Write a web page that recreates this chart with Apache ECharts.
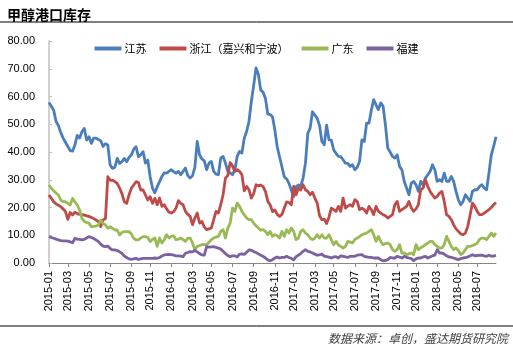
<!DOCTYPE html>
<html>
<head>
<meta charset="utf-8">
<script src="https://cdn.jsdelivr.net/npm/echarts@6/dist/echarts.min.js"></script>
<style>
  html, body { margin: 0; padding: 0; background: #fff; }
  #chart { width: 513px; height: 353px; }
</style>
</head>
<body>
<div id="chart"></div>
<script>
// weekly readings, 2015-01-02 .. 2018-08-24
const weeks = [];
for (let t = Date.UTC(2015, 0, 2); weeks.length < 191; t += 7 * 864e5) {
  weeks.push(new Date(t).toISOString().slice(0, 10));
}

const jiangsu = [
  57.8, 56.5, 55, 51, 49.5, 47, 45, 43.5, 42, 40.5, 40.3, 42.5, 46, 45, 47.3, 48.5, 44.3, 45.5, 43.1, 45,
  45, 44.5, 44, 42, 43, 42.5, 35.3, 34.1, 34.5, 37.7, 35.9, 36.5, 37.7, 36.5, 38, 38.9, 41, 41.9, 38.3, 39,
  40.1, 36, 37.1, 31, 27, 25.3, 27.5, 29.3, 31.2, 32.5, 32.4, 33, 33.6, 32.9, 32.4, 33, 31.8, 33, 34.2, 31.5,
  30.6, 31.5, 34.5, 43.8, 39, 37.5, 36.8, 33.6, 36, 36.6, 33, 32, 31.8, 37.8, 38.4, 36, 33, 32.5, 31.8, 33.6,
  38.5, 40.2, 39.6, 45, 47.4, 51, 58.2, 64, 70.3, 67.9, 62.3, 61.5, 59.3, 53.7, 53.5, 52.7, 47.9, 41.9, 38.3, 34.7,
  31.1, 30.3, 28.7, 26.3, 23.9, 27.5, 28.1, 27.6, 30.6, 35.9, 46.7, 48.6, 54.5, 53.3, 52.1, 49.5, 43.8, 42.6, 49.7, 44.4,
  44.3, 40.8, 39.5, 38.4, 38.3, 37.2, 36, 35.9, 34.8, 35.4, 33.6, 34.5, 36.6, 44.4, 43.8, 50.4, 50.4, 55, 58.9, 57,
  55.3, 57.7, 56.5, 49.8, 41.4, 40, 38.4, 37.8, 39, 34.8, 33.6, 29.4, 27, 24.6, 28.8, 29.4, 28.2, 25.8, 29.4, 28.2,
  30.6, 31.8, 33, 35.4, 33.6, 29.4, 30, 29.4, 32.4, 29.4, 29.4, 31.2, 29.4, 25.8, 22.8, 21, 22.2, 24.6, 23.4, 22.2,
  25.8, 26.4, 26.4, 27.6, 28.2, 27, 26.4, 32.4, 39, 42, 45.5
];

const zhejiang = [
  24.5, 23.3, 22, 21.3, 20.8, 20.3, 19.5, 18.5, 15.7, 18.2, 17.3, 18.3, 17.8, 17.5, 17.4, 17.3, 17, 16.8, 16.4, 16,
  15.5, 14.9, 13.1, 15.5, 16, 31.1, 29.8, 29.9, 29.3, 28.7, 27, 25, 22.1, 21.5, 24.5, 26.9, 28.1, 29.3, 29, 26.3,
  26.3, 24.5, 22.7, 23.9, 21.5, 23.3, 21, 23.4, 20.4, 21, 19.5, 18.3, 18, 18.5, 19.8, 22.5, 21.5, 21, 18.6, 17.5,
  16.8, 13.8, 16.2, 18, 14.4, 15, 13, 12, 12.3, 12.6, 15.6, 18.6, 18, 21, 24.6, 30.6, 31.5, 36.2, 35, 33,
  33.6, 33, 31.8, 26, 27.6, 26.4, 23.4, 25, 28.2, 27.8, 28.1, 27.5, 25.8, 22.2, 21, 18.5, 19.1, 17.5, 16.8, 17.5,
  19.8, 22, 21.8, 21, 27.6, 24.6, 27, 26.3, 28.2, 26.4, 25.8, 24.6, 25.5, 23.4, 21.6, 17, 15.6, 15.8, 14.2, 16.5,
  19.8, 19.2, 18.6, 20.4, 18.6, 23.4, 19.8, 20.5, 21, 20.4, 22.8, 22.2, 19.2, 19.8, 19.2, 18, 20.4, 19.2, 17.4, 20.4,
  18.6, 18, 17.4, 17, 16.2, 16.8, 17.4, 21, 22.2, 18.6, 19.2, 19.8, 20.4, 22.2, 19.8, 18.6, 19.5, 21, 26.4, 27,
  30, 27.6, 25.8, 24.5, 23.4, 24, 25.2, 25.8, 22.2, 17.4, 16.8, 15.6, 13.8, 12.3, 11.4, 10.5, 10.2, 10.8, 13.2, 17.4,
  21.6, 20.4, 18.6, 17.4, 17.4, 18, 18.6, 19.2, 20, 21, 21.8
];

const guangdong = [
  28.1, 26.9, 26, 25.2, 24.5, 22.7, 22.1, 22.1, 21.5, 20.9, 23.3, 22, 20.9, 19.1, 16.1, 15, 14.6, 14.3, 13.1, 13.2,
  13.3, 13.7, 15.5, 14.3, 13.7, 12.5, 13.1, 12.5, 11.9, 11.9, 10.1, 11, 11.3, 11.3, 11.3, 10.5, 8.9, 8.3, 8.3, 9,
  9.5, 9.5, 9.2, 7.7, 8.5, 9, 6, 9, 7.2, 8.4, 10.2, 9, 9.6, 9.8, 8.4, 8.6, 9, 8.4, 7.8, 9,
  9, 7.2, 4.8, 6, 6.3, 6.6, 6.6, 6.6, 7.5, 8.4, 9, 9.3, 9.6, 11.4, 12, 9, 12.6, 14.4, 19.8, 18.6,
  21.6, 20.4, 18.6, 17.4, 16.2, 15.6, 15.6, 14.4, 13.4, 12.6, 11.8, 12, 11.4, 10.2, 11.4, 9.6, 10.2, 9.8, 9, 11.4,
  9.6, 12, 10.8, 12.6, 11.4, 8.4, 9, 11.4, 12, 10.8, 10.2, 9, 8.4, 9, 10.2, 9, 10.2, 9, 9, 10.2,
  8.4, 6.6, 7.8, 6.5, 6, 5.4, 6, 7.8, 7.5, 7.2, 8.5, 9, 9.5, 10.2, 10.5, 10.8, 11.4, 12, 10.2, 7.8,
  9.6, 7.8, 6.6, 7, 7.2, 6.6, 4.8, 4.2, 4.8, 6.6, 3.6, 3.6, 3, 3.3, 3.6, 3, 6.6, 4.8, 5.5, 6,
  6.6, 7.2, 7.8, 7.8, 6.6, 6, 5.4, 5.4, 6.6, 9.6, 7.8, 6, 4.8, 5.4, 4.5, 3, 3.6, 4.8, 6, 6,
  6.3, 6.6, 7.2, 8.5, 9, 9, 8.4, 9.6, 10.8, 9.6, 10.8
];

const fujian = [
  9.5, 9.2, 8.9, 8.6, 8.3, 8.1, 8, 8, 7.9, 7.6, 7.3, 8.9, 8.6, 8.5, 8.3, 8.5, 9, 9.5, 9.2, 8.8,
  8.3, 7.7, 6.8, 6.1, 5.9, 6.1, 5.2, 4.7, 4.7, 4.5, 4, 3.5, 2.5, 2, 1.5, 1.3, 1.5, 1.7, 1.3, 1.5,
  1.7, 1.7, 1.7, 1.7, 1.7, 1.8, 1.7, 2, 2.5, 2.9, 3, 3.1, 3, 2.8, 2.6, 2.6, 2.5, 2.3, 3.5, 3.8,
  4.1, 4, 4.5, 4, 3.4, 2.9, 2.8, 5.9, 5.7, 5.8, 5.9, 5.6, 5.4, 5, 4.2, 3.4, 2.7, 2.3, 2.6, 2.6,
  2.2, 3.2, 3.3, 3.1, 3.9, 4.7, 4.6, 4.1, 3.8, 3.3, 2.8, 2.4, 1.8, 1.1, 0.8, 1.2, 1.8, 2.2, 1.8, 2,
  2, 2.4, 2, 1.7, 1.1, 2.3, 2.8, 3.4, 4.2, 4.8, 4.2, 4, 3.6, 3.2, 2.8, 2.9, 3.2, 2.5, 2.3, 2.1,
  1.8, 2.2, 2.3, 1.8, 2.6, 2.4, 2.2, 2, 2.4, 2.4, 2.4, 2.8, 2.9, 3, 2.4, 2.2, 2, 2, 1.8, 1.8,
  1.8, 1.2, 0.8, 0.9, 1.2, 2, 1.8, 1.8, 2.4, 2.1, 1.8, 2.4, 2, 1.8, 1.6, 0.8, 1.5, 1.8, 1.8, 2.2,
  2.4, 1.8, 2.2, 2.6, 2.8, 4.8, 3.6, 3.6, 3.2, 2.6, 2.2, 2, 1.8, 1.5, 1.2, 1.6, 1.8, 1.9, 2.2, 2.6,
  3, 2.6, 2.7, 2.8, 2.8, 2.6, 2.4, 2.8, 2.5, 2.5, 2.8
];

const seriesNames = ['江苏', '浙江（嘉兴和宁波）', '广东', '福建'];
const colors = ['#4a7ebb', '#be4b48', '#98b954', '#7d60a0'];

// one label every second month, on the week nearest the month start
const DAY = 864e5;
const monthLabels = weeks.map((w, i) => {
  const d = new Date(Date.parse(w) + 3 * DAY);
  const p = i ? new Date(Date.parse(weeks[i - 1]) + 3 * DAY) : null;
  if ((p && p.getUTCMonth() === d.getUTCMonth()) || d.getUTCMonth() % 2 !== 0) return '';
  return d.toISOString().slice(0, 7);
});

const chart = echarts.init(document.getElementById('chart'));
const font = 'Liberation Sans, Arial, sans-serif';

chart.setOption({
  animation: false,
  color: colors,
  title: {
    text: '甲醇港口库存',
    left: 2,
    top: 3,
    textStyle: { fontSize: 14, fontWeight: 'bold', color: '#000', fontFamily: 'Noto Sans CJK SC' },
  },
  legend: {
    top: 38,
    left: 'center',
    icon: 'rect',
    itemWidth: 27,
    itemHeight: 4,
    itemGap: 13,
    textStyle: { fontSize: 11, color: '#000', fontFamily: 'Noto Sans CJK SC', padding: [0, 0, 0, -2] },
    data: seriesNames,
  },
  grid: { left: 49, right: 17, top: 41, bottom: 90 },
  xAxis: {
    type: 'category',
    data: weeks,
    boundaryGap: false,
    axisLine: { lineStyle: { color: '#868686' } },
    axisTick: {
      interval: (i) => monthLabels[i] !== '',
      length: 4,
      lineStyle: { color: '#868686' },
    },
    axisLabel: {
      interval: 0,
      rotate: 90,
      margin: 8,
      fontSize: 11,
      color: '#000',
      fontFamily: font,
      formatter: (v, i) => monthLabels[i],
    },
  },
  yAxis: {
    type: 'value',
    min: 0,
    max: 80,
    interval: 10,
    splitLine: { show: false },
    axisLine: { show: true, lineStyle: { color: '#bfbfbf', width: 1.5 } },
    axisTick: { show: true, inside: true, length: 3, lineStyle: { color: '#bfbfbf' } },
    axisLabel: {
      margin: 14,
      fontSize: 11,
      color: '#000',
      fontFamily: font,
      formatter: (v) => v.toFixed(2),
    },
  },
  graphic: [
    { type: 'line', shape: { x1: 0, y1: 22, x2: 513, y2: 22 }, style: { stroke: '#000', lineWidth: 1 } },
    { type: 'line', shape: { x1: 0, y1: 326, x2: 513, y2: 326 }, style: { stroke: '#000', lineWidth: 1 } },
    {
      type: 'text',
      right: 5,
      top: 332,
      style: {
        text: '数据来源：卓创，盛达期货研究院',
        fill: '#404040',
        font: 'italic 12px "Noto Sans CJK SC"',
      },
    },
  ],
  series: [jiangsu, zhejiang, guangdong, fujian].map((data, k) => ({
    name: seriesNames[k],
    type: 'line',
    data: data,
    showSymbol: false,
    lineStyle: { width: 2.8, color: colors[k], join: 'round' },
  })),
});
</script>
</body>
</html>
